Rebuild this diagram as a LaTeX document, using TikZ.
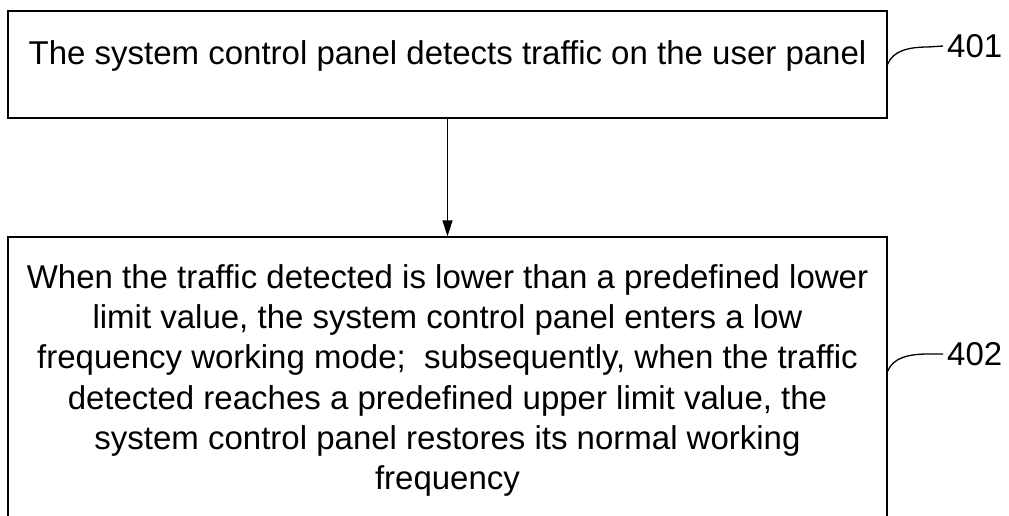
\documentclass[tikz,border=0pt]{standalone}
\usepackage{fontspec}
\setmainfont{Liberation Sans}
\usetikzlibrary{arrows.meta}
\tikzset{
  stepbox/.style={draw=black, line width=1.5pt, inner sep=0pt},
  steptext/.style={inner sep=0pt, align=center, font=\fontsize{33}{40.3}\selectfont},
  reflabel/.style={inner sep=0pt, inner xsep=4pt, anchor=west, font=\fontsize{33}{40}\selectfont},
  leader/.style={line width=1.3pt},
  flow/.style={line width=1.5pt, -{Triangle[length=16pt,width=10pt]}}
}
\begin{document}
\begin{tikzpicture}[x=1pt,y=-1pt]
\useasboundingbox (0,0) rectangle (1009,516);
\clip (0,0) rectangle (1009,516);
% boxes
\node[stepbox, minimum width=879pt, minimum height=107pt] (box1) at (447.5,64.5) {};
\node[stepbox, minimum width=879pt, minimum height=323pt] (box2) at (447.5,398.5) {};
% texts
\node[steptext, anchor=base] (t1) at (447.5,65) {The system control panel detects traffic on the user panel};
\node[steptext, anchor=north] (t2) at (447.5,264) {When the traffic detected is lower than a predefined lower\\
limit value, the system control panel enters a low\\
frequency working mode;~ subsequently, when the traffic\\
detected reaches a predefined upper limit value, the\\
system control panel restores its normal working\\
frequency};
% arrow
\draw[flow] (box1.south) -- (box2.north);
% reference labels
\node[reflabel] (l401) at (943,46) {401};
\node[reflabel] (l402) at (943,354) {402};
\coordinate (c401) at (box1.east |- 0,64);
\coordinate (c402) at (box2.east |- 0,371);
\draw[leader] (c401) .. controls (893,51) and (908,47) .. (928,47) -- (l401.west);
\draw[leader] (c402) .. controls (893,358) and (908,354) .. (928,354) -- (l402.west);
\end{tikzpicture}
\end{document}
